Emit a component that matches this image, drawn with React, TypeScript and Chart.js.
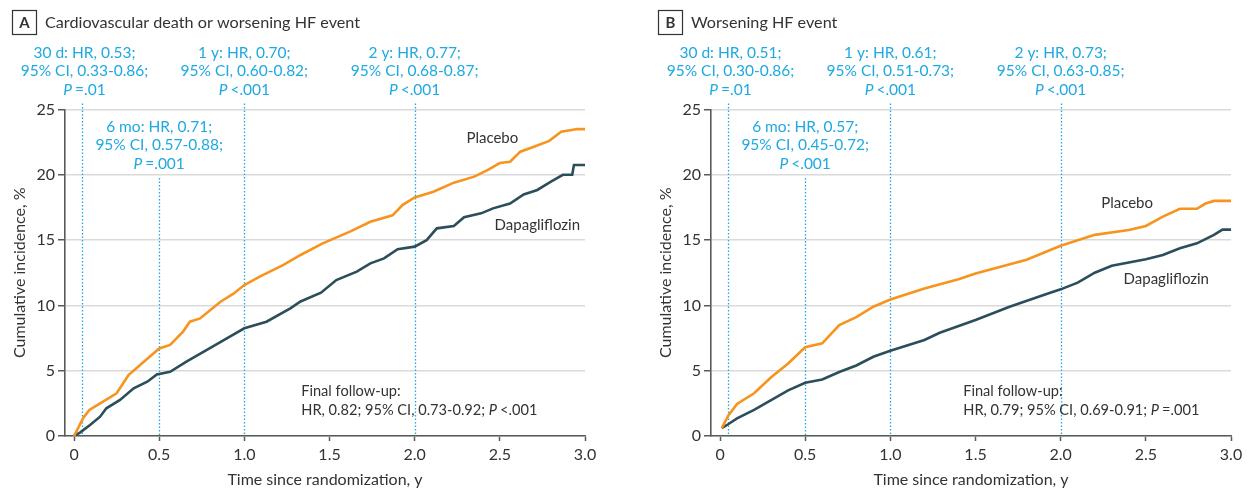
import React, { useEffect, useRef } from "react";
import { Chart, registerables } from "chart.js";
Chart.register(...registerables);

// ---------- data ----------
const X_TICKS = [0, 0.5, 1, 1.5, 2, 2.5, 3];
const Y_TICKS = [0, 5, 10, 15, 20, 25];
const MARKERS = [0.047, 0.5, 1.0, 2.0];

const aPlaceboT = [0, 0.055, 0.09, 0.153, 0.25, 0.32, 0.41, 0.5, 0.564, 0.64, 0.68, 0.74, 0.86, 0.936, 1.0, 1.09, 1.23, 1.33, 1.46, 1.62, 1.74, 1.87, 1.93, 2.0, 2.11, 2.23, 2.35, 2.43, 2.5, 2.56, 2.62, 2.7, 2.79, 2.86, 2.955, 3.0];
const aPlaceboV = [0, 1.4, 1.99, 2.5, 3.27, 4.67, 5.69, 6.7, 6.97, 7.99, 8.75, 9.0, 10.28, 10.9, 11.56, 12.2, 13.1, 13.86, 14.75, 15.65, 16.4, 16.9, 17.7, 18.27, 18.7, 19.4, 19.86, 20.37, 20.9, 21.0, 21.77, 22.15, 22.6, 23.3, 23.5, 23.5];
const aDapaT = [0, 0.035, 0.094, 0.153, 0.19, 0.27, 0.35, 0.43, 0.486, 0.564, 0.66, 0.78, 0.897, 1.0, 1.13, 1.27, 1.33, 1.45, 1.54, 1.66, 1.74, 1.82, 1.9, 2.0, 2.07, 2.13, 2.23, 2.29, 2.39, 2.46, 2.56, 2.64, 2.72, 2.8, 2.87, 2.925, 2.935, 3.0];
const aDapaV = [0, 0.26, 0.84, 1.48, 2.12, 2.76, 3.65, 4.16, 4.72, 4.92, 5.69, 6.59, 7.48, 8.25, 8.75, 9.78, 10.3, 10.97, 11.94, 12.58, 13.22, 13.6, 14.3, 14.5, 15.0, 15.9, 16.08, 16.75, 17.05, 17.43, 17.8, 18.5, 18.84, 19.47, 20.0, 20.0, 20.75, 20.75];

const bPlaceboT = [0.01, 0.05, 0.1, 0.2, 0.3, 0.4, 0.5, 0.6, 0.7, 0.8, 0.9, 1.0, 1.2, 1.4, 1.5, 1.8, 2.0, 2.2, 2.4, 2.5, 2.6, 2.7, 2.8, 2.85, 2.9, 3.0];
const bPlaceboV = [0.6, 1.6, 2.45, 3.27, 4.5, 5.55, 6.8, 7.1, 8.5, 9.1, 9.9, 10.45, 11.3, 12.0, 12.45, 13.5, 14.57, 15.4, 15.77, 16.08, 16.8, 17.4, 17.4, 17.8, 18.0, 18.0];
const bDapaT = [0.01, 0.05, 0.1, 0.2, 0.3, 0.4, 0.5, 0.6, 0.7, 0.8, 0.9, 1.0, 1.2, 1.29, 1.5, 1.7, 1.9, 2.0, 2.1, 2.2, 2.3, 2.5, 2.6, 2.7, 2.8, 2.9, 2.95, 3.0];
const bDapaV = [0.6, 0.92, 1.35, 2.0, 2.75, 3.5, 4.08, 4.33, 4.9, 5.4, 6.07, 6.53, 7.35, 7.9, 8.88, 9.9, 10.8, 11.23, 11.74, 12.5, 13.04, 13.53, 13.86, 14.37, 14.75, 15.4, 15.8, 15.8];

const aNote30d = ["30 d: HR, 0.53;", "95% CI, 0.33-0.86;", "P=.01"];
const aNote6mo = ["6 mo: HR, 0.71;", "95% CI, 0.57-0.88;", "P=.001"];
const aNote1y = ["1 y: HR, 0.70;", "95% CI, 0.60-0.82;", "P<.001"];
const aNote2y = ["2 y: HR, 0.77;", "95% CI, 0.68-0.87;", "P<.001"];
const aFinal = ["Final follow-up:", "HR, 0.82; 95% CI, 0.73-0.92; P<.001"];

const bNote30d = ["30 d: HR, 0.51;", "95% CI, 0.30-0.86;", "P=.01"];
const bNote6mo = ["6 mo: HR, 0.57;", "95% CI, 0.45-0.72;", "P<.001"];
const bNote1y = ["1 y: HR, 0.61;", "95% CI, 0.51-0.73;", "P<.001"];
const bNote2y = ["2 y: HR, 0.73;", "95% CI, 0.63-0.85;", "P<.001"];
const bFinal = ["Final follow-up:", "HR, 0.79; 95% CI, 0.69-0.91; P=.001"];

// ---------- styles ----------
const FONT = "Lato, 'Noto Sans', sans-serif";
const ORANGE = "#F7941D";
const TEAL = "#2C4E5A";
const CYAN = "#1FA9E1";
const TEXT = "#333333";
const AXIS = "#5a5a5a";
const GRID = "#dadada";

type PanelCfg = {
  letter: string;
  title: string;
  placeboT: number[]; placeboV: number[];
  dapaT: number[]; dapaV: number[];
  notes: string[][];
  final: string[];
  finalPos: [number, number];
  placeboLabel: [number, number];
  dapaLabel: [number, number];
};

const PANELS: PanelCfg[] = [
  {
    letter: "A", title: "Cardiovascular death or worsening HF event",
    placeboT: aPlaceboT, placeboV: aPlaceboV, dapaT: aDapaT, dapaV: aDapaV,
    notes: [aNote30d, aNote6mo, aNote1y, aNote2y], final: aFinal,
    finalPos: [1.334, 3.45], placeboLabel: [2.456, 22.8], dapaLabel: [2.72, 16.15],
  },
  {
    letter: "B", title: "Worsening HF event",
    placeboT: bPlaceboT, placeboV: bPlaceboV, dapaT: bDapaT, dapaV: bDapaV,
    notes: [bNote30d, bNote6mo, bNote1y, bNote2y], final: bFinal,
    finalPos: [1.428, 3.45], placeboLabel: [2.39, 17.84], dapaLabel: [2.62, 12.0],
  },
];

function drawRich(ctx: CanvasRenderingContext2D, text: string, x: number, y: number, size: number, color: string, align: "center" | "left") {
  const parts = text.split(/(P(?=[=<]))/);
  const fontN = `${size}px ${FONT}`;
  const fontI = `italic ${size}px ${FONT}`;
  const segs = parts.filter((p) => p.length > 0).map((p) => ({ t: p, it: p === "P" }));
  let total = 0;
  const widths = segs.map((s) => {
    ctx.font = s.it ? fontI : fontN;
    const w = ctx.measureText(s.t).width + (s.it ? 3 : 0);
    total += w;
    return w;
  });
  let cx = align === "center" ? x - total / 2 : x;
  ctx.fillStyle = color;
  ctx.textAlign = "left";
  ctx.textBaseline = "middle";
  segs.forEach((s, i) => {
    ctx.font = s.it ? fontI : fontN;
    ctx.fillText(s.t, cx, y);
    cx += widths[i];
  });
}

function makeConfig(cfg: PanelCfg): any {
  const pts = (t: number[], v: number[]) => t.map((x, i) => ({ x, y: v[i] }));
  const decor = {
    id: "decor" + cfg.letter,
    beforeDatasetsDraw(chart: any) {
      const ctx: CanvasRenderingContext2D = chart.ctx;
      const xs = chart.scales.x;
      const ys = chart.scales.y;
      const area = chart.chartArea;
      ctx.save();
      ctx.strokeStyle = CYAN;
      ctx.lineWidth = 1.3;
      ctx.setLineDash([1.5, 2]);
      MARKERS.forEach((m, i) => {
        const x = Math.round(xs.getPixelForValue(m)) + 0.5;
        const yTop = i === 1 ? ys.getPixelForValue(19.75) : area.top - 6;
        ctx.beginPath();
        ctx.moveTo(x, yTop);
        ctx.lineTo(x, area.bottom);
        ctx.stroke();
      });
      ctx.restore();
    },
    afterDraw(chart: any) {
      const ctx: CanvasRenderingContext2D = chart.ctx;
      const xs = chart.scales.x;
      const ys = chart.scales.y;
      const area = chart.chartArea;
      ctx.save();
      // panel letter box
      ctx.strokeStyle = TEXT;
      ctx.lineWidth = 1.2;
      ctx.strokeRect(12.5, 10.5, 24, 24);
      ctx.fillStyle = TEXT;
      ctx.font = `bold 15px ${FONT}`;
      ctx.textAlign = "center";
      ctx.textBaseline = "middle";
      ctx.fillText(cfg.letter, 24.5, 23);
      ctx.font = `16.2px ${FONT}`;
      ctx.textAlign = "left";
      ctx.fillText(cfg.title, 45, 22.5);
      // HR annotations
      cfg.notes.forEach((lines, i) => {
        const cx = xs.getPixelForValue(MARKERS[i]) + (i === 0 ? 2.5 : 0);
        const base = i === 1 ? area.top + 17 : area.top - 57;
        lines.forEach((ln, j) => drawRich(ctx, ln, cx, base + j * 18.5, 15.5, CYAN, "center"));
      });
      // final follow-up
      const fx = xs.getPixelForValue(cfg.finalPos[0]);
      const fy = ys.getPixelForValue(cfg.finalPos[1]);
      cfg.final.forEach((ln, j) => drawRich(ctx, ln, fx, fy + j * 19, 14.6, TEXT, "left"));
      // curve labels
      ctx.fillStyle = TEXT;
      ctx.font = `15px ${FONT}`;
      ctx.textAlign = "center";
      ctx.textBaseline = "middle";
      ctx.fillText("Placebo", xs.getPixelForValue(cfg.placeboLabel[0]), ys.getPixelForValue(cfg.placeboLabel[1]));
      ctx.fillText("Dapagliflozin", xs.getPixelForValue(cfg.dapaLabel[0]), ys.getPixelForValue(cfg.dapaLabel[1]));
      ctx.restore();
    },
  };

  return {
    type: "line",
    data: {
      datasets: [
        { label: "Placebo", data: pts(cfg.placeboT, cfg.placeboV), borderColor: ORANGE, borderWidth: 2.6, pointRadius: 0, tension: 0, fill: false },
        { label: "Dapagliflozin", data: pts(cfg.dapaT, cfg.dapaV), borderColor: TEAL, borderWidth: 2.6, pointRadius: 0, tension: 0, fill: false },
      ],
    },
    options: {
      animation: false,
      responsive: false,
      maintainAspectRatio: false,
      layout: { padding: { left: 0, right: 17, top: 109.5, bottom: 0 } },
      plugins: { legend: { display: false }, tooltip: { enabled: false } },
      scales: {
        x: {
          type: "linear",
          min: -0.053,
          max: 3.0,
          afterBuildTicks: (s: any) => { s.ticks = X_TICKS.map((v) => ({ value: v })); },
          afterFit: (s: any) => { s.height = 53; },
          ticks: {
            color: TEXT,
            font: { family: FONT, size: 16 },
            padding: 4,
            maxRotation: 0,
            callback: (v: any) => (Number(v) === 0 ? "0" : Number(v).toFixed(1)),
          },
          grid: { drawOnChartArea: false, drawTicks: true, tickLength: 5, tickColor: AXIS, tickWidth: 1.5 },
          border: { color: AXIS, width: 1.6 },
          title: { display: true, text: "Time since randomization, y", color: TEXT, font: { family: FONT, size: 16 }, padding: { top: 0, bottom: 0 } },
        },
        y: {
          min: 0,
          max: 25,
          afterBuildTicks: (s: any) => { s.ticks = Y_TICKS.map((v) => ({ value: v })); },
          afterFit: (s: any) => { s.width = 65; },
          ticks: { color: TEXT, font: { family: FONT, size: 16 }, padding: 3 },
          grid: { color: GRID, lineWidth: 1.5, drawTicks: true, tickLength: 7, tickColor: AXIS, tickWidth: 1.5 },
          border: { color: AXIS, width: 1.6 },
          title: { display: true, text: "Cumulative incidence, %", color: TEXT, font: { family: FONT, size: 16 }, padding: { top: 10, bottom: 0 } },
        },
      },
    },
    plugins: [decor],
  };
}

function Panel({ cfg, left }: { cfg: PanelCfg; left: number }) {
  const ref = useRef<HTMLCanvasElement>(null);
  useEffect(() => {
    const chart = new Chart(ref.current as HTMLCanvasElement, makeConfig(cfg));
    return () => chart.destroy();
  }, [cfg]);
  return (
    <canvas
      ref={ref}
      width={602}
      height={489}
      style={{ position: "absolute", left, top: 0, width: 602, height: 489 }}
    />
  );
}

export default function App() {
  return (
    <div style={{ position: "absolute", left: 0, top: 0, width: 1248, height: 489, background: "#fff", overflow: "hidden" }}>
      <Panel cfg={PANELS[0]} left={0} />
      <Panel cfg={PANELS[1]} left={646} />
    </div>
  );
}
